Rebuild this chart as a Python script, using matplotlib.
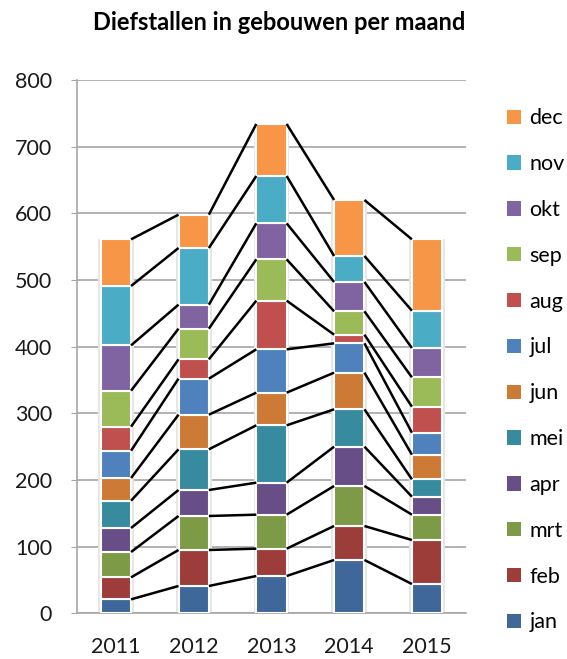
import numpy as np
import matplotlib
matplotlib.use('Agg')
import matplotlib.pyplot as plt
from matplotlib.patches import Patch

plt.rcParams['font.family'] = ['Lato', 'DejaVu Sans']

# data (monthly counts per year)
years = ['2011', '2012', '2013', '2014', '2015']
months = ['jan', 'feb', 'mrt', 'apr', 'mei', 'jun', 'jul', 'aug', 'sep', 'okt', 'nov', 'dec']
jan = [21, 41, 56, 80, 44]
feb = [33, 54, 41, 51, 66]
mrt = [38, 51, 51, 60, 38]
apr = [36, 39, 48, 59, 27]
mei = [41, 61, 86, 56, 26]
jun = [34, 52, 49, 55, 37]
jul = [41, 54, 65, 44, 33]
aug = [36, 29, 73, 13, 39]
sep = [54, 46, 62, 35, 44]
okt = [68, 36, 54, 44, 44]
nov = [89, 85, 71, 39, 56]
dec = [70, 50, 78, 84, 107]

colors = ['#3F679A', '#9C3D3A', '#7D9A46', '#674E86', '#388A9F', '#CC7A35',
          '#4F81BD', '#C0504D', '#9BBB59', '#8064A2', '#4BACC6', '#F79646']

values = np.array([jan, feb, mrt, apr, mei, jun, jul, aug, sep, okt, nov, dec])
cum = np.cumsum(values, axis=0)
x = np.arange(len(years))
w = 0.39

fig = plt.figure(figsize=(5.67, 6.59), dpi=100)
ax = fig.add_axes([0.1358, 0.0693, 0.686, 0.8093])

# soft shadow behind each stack
ax.bar(x, cum[-1] + 2, w + 0.07, bottom=-1, color='#e6e6e6', zorder=2, linewidth=0)

bottom = np.zeros(len(years))
for i, m in enumerate(months):
    ax.bar(x, values[i], w, bottom=bottom, color=colors[i], edgecolor='white',
           linewidth=1.5, zorder=3, label=m)
    bottom = bottom + values[i]

# series lines between the stacks
for k in range(len(months)):
    for i in range(len(years) - 1):
        ax.plot([x[i] + w / 2, x[i + 1] - w / 2], [cum[k, i], cum[k, i + 1]],
                color='black', lw=1.8, zorder=4, solid_capstyle='butt')

ax.set_xlim(-0.5, len(years) - 0.5)
ax.set_ylim(0, 800)
ax.set_yticks(range(0, 801, 100))
ax.set_xticks(x)
ax.set_xticklabels(years)
ax.yaxis.grid(True, color='#a6a6a6', lw=1.2, zorder=0)
ax.set_axisbelow(True)
for s in ['top', 'right']:
    ax.spines[s].set_visible(False)
for s in ['left', 'bottom']:
    ax.spines[s].set_color('#a6a6a6')
    ax.spines[s].set_linewidth(1.2)
ax.tick_params(axis='y', length=4, color='#a6a6a6', labelsize=15.5, pad=14, labelcolor='#1a1a1a')
ax.tick_params(axis='x', length=0, labelsize=15.5, pad=17, labelcolor='#1a1a1a')

handles = [Patch(facecolor=colors[i], label=months[i]) for i in range(len(months))][::-1]
fig.legend(handles=handles, loc='upper left', bbox_to_anchor=(0.875, 0.852),
           frameon=False, fontsize=15.5, labelspacing=1.2, handlelength=0.65,
           handleheight=0.65, handletextpad=0.4, borderpad=0)

fig.text(0.492, 1 - 22 / 659, 'Diefstallen in gebouwen per maand', ha='center', va='center',
         fontsize=17, fontweight='bold')

fig.savefig('out.png', dpi=100)
